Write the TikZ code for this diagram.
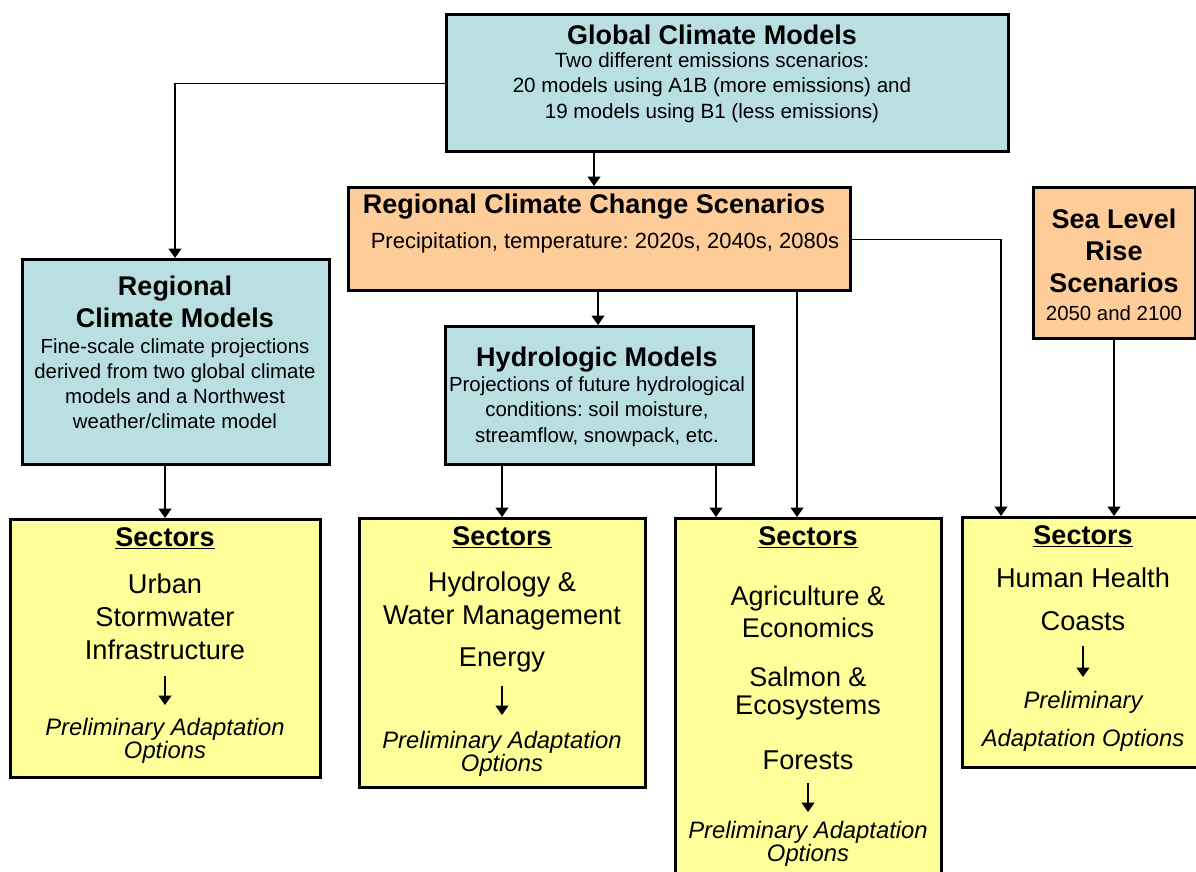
\documentclass[tikz,border=0pt]{standalone}
\usepackage{fontspec}
\setmainfont{Liberation Sans}
\usetikzlibrary{arrows.meta}
\definecolor{cblue}{RGB}{185,223,227}
\definecolor{corange}{RGB}{254,204,153}
\definecolor{cyellow}{RGB}{255,255,153}
\newcommand{\fs}[2]{\fontsize{#1}{#2}\selectfont}
\frenchspacing
\begin{document}
\begin{tikzpicture}[x=1pt,y=-1pt,
  box/.style={draw, line width=3.4pt, inner sep=0pt, anchor=north west},
  bluebox/.style={box, fill=cblue},
  orangebox/.style={box, fill=corange},
  yellowbox/.style={box, fill=cyellow},
  txt/.style={inner sep=0pt, align=center, anchor=center},
  title/.style={txt, font=\fs{27}{32}\bfseries},
  body/.style={txt, font=\fs{20.4}{25.5}},
  sectitle/.style={txt, font=\fs{27}{30}\bfseries},
  item/.style={txt, font=\fs{27.2}{33}},
  prelim/.style={txt, font=\fs{23.8}{23}\itshape},
  arr/.style={line width=1.4pt, -{Triangle[width=13pt,length=9.5pt]}}
]
\useasboundingbox (0,0) rectangle (1196,871);
\clip (0,0) rectangle (1196,871);

% model and scenario boxes
\node[bluebox, minimum width=562pt, minimum height=137pt] (gcm) at (445,13) {};
\node[orangebox, minimum width=502pt, minimum height=103pt] (rccs) at (347,186) {};
\node[orangebox, minimum width=162pt, minimum height=151pt] (slr) at (1032,186) {};
\node[bluebox, minimum width=307pt, minimum height=205pt] (rcm) at (21,258) {};
\node[bluebox, minimum width=308pt, minimum height=138pt] (hm) at (444,325) {};

% sector boxes
\node[yellowbox, minimum width=310pt, minimum height=258pt] (s1) at (9,518) {};
\node[yellowbox, minimum width=286pt, minimum height=269pt] (s2) at (358,517) {};
\node[yellowbox, minimum width=266pt, minimum height=380pt] (s3) at (674,517) {};
\node[yellowbox, minimum width=250pt, minimum height=250pt] (s4) at (961,516) {};

% texts of the model boxes
\node[title] (gcm-t) at (712,35) {Global Climate Models};
\node[body, font=\fs{20.6}{25.5}] (gcm-b) at (712,87.5) {Two different emissions scenarios:\\20 models using A1B (more emissions) and\\19 models using B1 (less emissions)};
\node[title] (rccs-t) at (594,207) {Regional Climate Change Scenarios};
\node[body, font=\fs{22}{25.5}] (rccs-b) at (605,243) {Precipitation, temperature: 2020s, 2040s, 2080s};
\node[title] (slr-t) at (1114,251) {Sea Level\\Rise\\Scenarios};
\node[body] (slr-b) at (1114,313) {2050 and 2100};
\node[title] (rcm-t) at (175,302) {Regional\\Climate Models};
\node[body, font=\fs{20.4}{25}] (rcm-b) at (175,383.5) {Fine-scale climate projections\\derived from two global climate\\models and a Northwest\\weather/climate model};
\node[title] (hm-t) at (597,360) {Hydrologic Models};
\node[body] (hm-b) at (597,411.5) {Projections of future hydrological\\conditions: soil moisture,\\streamflow, snowpack, etc.};

% texts of the sector boxes
\node[sectitle] (s1-t) at (165,538) {\underline{Sectors}};
\node[item] (s1-i) at (165,617) {Urban\\Stormwater\\Infrastructure};
\node[prelim] (s1-p) at (165,740.5) {Preliminary Adaptation\\Options};

\node[sectitle] (s2-t) at (502,537) {\underline{Sectors}};
\node[item] (s2-i) at (502,600.5) {Hydrology \&\\Water Management};
\node[item] (s2-e) at (502,660) {Energy};
\node[prelim] (s2-p) at (502,753.5) {Preliminary Adaptation\\Options};

\node[sectitle] (s3-t) at (808,537) {\underline{Sectors}};
\node[item, font=\fs{27}{32}] (s3-a) at (808,612) {Agriculture \&\\Economics};
\node[item, font=\fs{27}{28}] (s3-s) at (808,694) {Salmon \&\\Ecosystems};
\node[item] (s3-f) at (808,760) {Forests};
\node[prelim, font=\fs{23.8}{22}\itshape] (s3-p) at (808,844) {Preliminary Adaptation\\Options};

\node[sectitle] (s4-t) at (1083,536) {\underline{Sectors}};
\node[item] (s4-h) at (1083,578) {Human Health};
\node[item] (s4-c) at (1083,621) {Coasts};
\node[prelim, font=\fs{23.8}{38}\itshape] (s4-p) at (1083,721) {Preliminary\\Adaptation Options};

% column positions of the connectors
\coordinate (xa) at (175,0);
\coordinate (xb) at (594,0);
\coordinate (xc) at (598,0);
\coordinate (xd) at (1001,0);
\coordinate (xe) at (797,0);
\coordinate (xf) at (502,0);
\coordinate (xg) at (716,0);
\coordinate (xh) at (165,0);
\coordinate (xi) at (1114,0);

% connectors between the boxes
\draw[arr] (gcm.west) -| (rcm.north -| xa);
\draw[arr] (gcm.south -| xb) -- (rccs.north -| xb);
\draw[arr] (rccs.south -| xc) -- (hm.north -| xc);
\draw[arr] (rccs.east) -| (s4.north -| xd);
\draw[arr] (rccs.south -| xe) -- (s3.north -| xe);
\draw[arr] (hm.south -| xf) -- (s2.north -| xf);
\draw[arr] (hm.south -| xg) -- (s3.north -| xg);
\draw[arr] (rcm.south -| xh) -- (s1.north -| xh);
\draw[arr] (slr.south -| xi) -- (s4.north -| xi);

% arrows from the sectors to the adaptation options
\coordinate (s1-a1) at (165,676); \coordinate (s1-a2) at (165,705);
\coordinate (s2-a1) at (502,686); \coordinate (s2-a2) at (502,715);
\coordinate (s3-a1) at (808,783); \coordinate (s3-a2) at (808,812);
\coordinate (s4-a1) at (1083,646); \coordinate (s4-a2) at (1083,677);
\draw[arr] (s1-a1) -- (s1-a2);
\draw[arr] (s2-a1) -- (s2-a2);
\draw[arr] (s3-a1) -- (s3-a2);
\draw[arr] (s4-a1) -- (s4-a2);
\end{tikzpicture}
\end{document}
